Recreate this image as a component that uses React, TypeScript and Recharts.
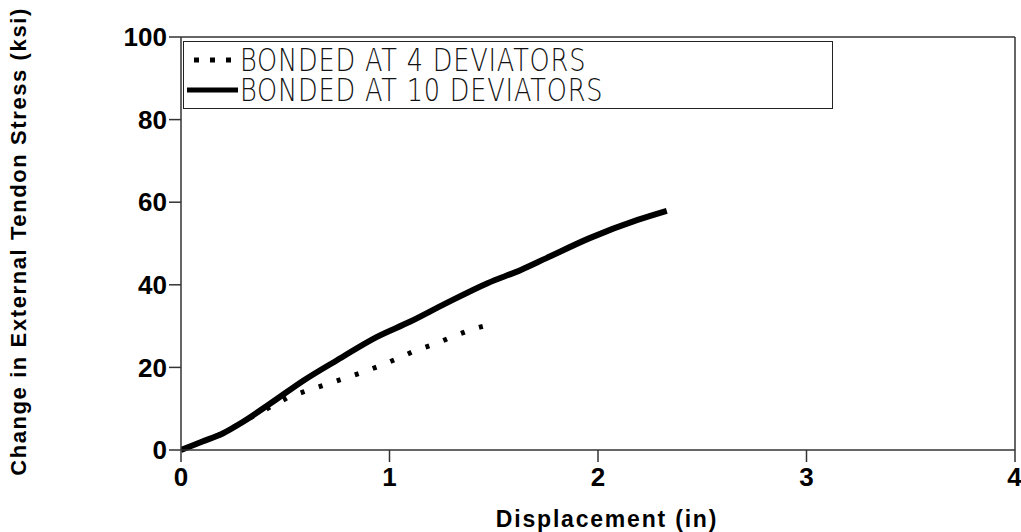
import { LineChart, Line, XAxis, YAxis, Legend, ReferenceLine } from 'recharts';

const tenDevX = [0, 0.1, 0.2, 0.3, 0.43, 0.59, 0.75, 0.94, 1.1, 1.27, 1.47, 1.63, 1.75, 1.96, 2.19, 2.33];
const tenDevY = [0, 2.0, 4.0, 6.9, 11.3, 16.9, 21.8, 27.4, 31.1, 35.5, 40.4, 43.6, 46.4, 51.3, 55.7, 57.9];

const fourDevX = [0, 0.2, 0.3, 0.43, 0.52, 0.6, 0.69, 0.78, 0.87, 0.96, 1.05, 1.13, 1.22, 1.31, 1.4, 1.49];
const fourDevY = [0, 4.0, 6.9, 10.5, 12.9, 14.3, 15.8, 17.3, 18.8, 20.5, 22.4, 24.2, 25.7, 27.6, 29.3, 30.5];

const xTicks = [0, 1, 2, 3, 4];
const yTicks = [0, 20, 40, 60, 80, 100];

const legendNames = ['BONDED AT 4 DEVIATORS', 'BONDED AT 10 DEVIATORS'];
const yTitle = 'Change  in  External  Tendon  Stress  (ksi)';
const xTitle = 'Displacement  (in)';

const tenDev = tenDevX.map((x, i) => ({ x, y: tenDevY[i] }));
const fourDev = fourDevX.map((x, i) => ({ x, y: fourDevY[i] }));

const boldFont = '"Liberation Sans", Arial, sans-serif';

const renderLegend = () => (
  <div
    style={{
      width: 650,
      height: 68,
      border: '1.5px solid #222',
      background: '#fff',
      boxSizing: 'border-box',
      fontFamily: '"DejaVu Sans", sans-serif',
      fontWeight: 200,
      fontSize: 32,
      lineHeight: '30px',
      letterSpacing: 1,
      color: '#111',
      paddingTop: 3,
      textAlign: 'left',
      overflow: 'hidden',
    }}
  >
    {legendNames.map((name, i) => (
      <div key={name} style={{ display: 'flex', alignItems: 'center', height: 30 }}>
        <svg width={54} height={10} style={{ marginLeft: 2, flexShrink: 0 }}>
          {i === 0 ? (
            <line x1={8} y1={5} x2={50} y2={5} stroke="#000" strokeWidth={5} strokeDasharray="5 11" />
          ) : (
            <line x1={1} y1={5} x2={52} y2={5} stroke="#000" strokeWidth={5} />
          )}
        </svg>
        <span style={{ transform: 'scaleX(0.8)', transformOrigin: 'left center', whiteSpace: 'nowrap' }}>
          {name}
        </span>
      </div>
    ))}
  </div>
);

const renderYTitle = ({ viewBox }: any) => {
  const x = viewBox.x + 18;
  const y = viewBox.y + viewBox.height / 2 - 2;
  return (
    <text
      x={x}
      y={y}
      transform={`rotate(-90 ${x} ${y})`}
      textAnchor="middle"
      dominantBaseline="central"
      fill="#000"
      style={{ fontSize: 22, fontWeight: 700, fontFamily: boldFont, letterSpacing: 1.6 }}
    >
      {yTitle}
    </text>
  );
};

export default function App() {
  return (
    <div style={{ position: 'absolute', left: 0, top: 0, width: 1021, height: 532, background: '#fff' }}>
      <LineChart width={1021} height={532} margin={{ top: 37, right: 6, bottom: 0, left: 0 }}>
        <XAxis
          type="number"
          dataKey="x"
          domain={[0, 4]}
          ticks={xTicks}
          allowDataOverflow
          height={82}
          stroke="#333"
          strokeWidth={1.5}
          tickSize={12}
          tickMargin={6}
          tick={{ fill: '#000', fontSize: 26, fontWeight: 700, fontFamily: boldFont }}
          label={{
            value: xTitle,
            position: 'insideBottom',
            offset: 5,
            dx: 9,
            style: { fill: '#000', fontSize: 23, fontWeight: 700, fontFamily: boldFont, letterSpacing: 1.8 },
          }}
        />
        <YAxis
          type="number"
          dataKey="y"
          domain={[0, 100]}
          ticks={yTicks}
          width={181}
          stroke="#333"
          strokeWidth={1.5}
          tickSize={12}
          tickMargin={2}
          tick={{ fill: '#000', fontSize: 26, fontWeight: 700, fontFamily: boldFont }}
          label={renderYTitle}
        />
        <ReferenceLine y={100} stroke="#333" strokeWidth={1.5} />
        <ReferenceLine x={4} stroke="#333" strokeWidth={1.5} />
        <Legend
          content={renderLegend}
          layout="horizontal"
          verticalAlign="middle"
          align="center"
          wrapperStyle={{ top: 41, left: 183, width: 650 }}
        />
        <Line
          data={fourDev}
          dataKey="y"
          name={legendNames[0]}
          type="linear"
          stroke="#000"
          strokeWidth={5}
          strokeDasharray="4 15"
          dot={false}
          isAnimationActive={false}
        />
        <Line
          data={tenDev}
          dataKey="y"
          name={legendNames[1]}
          type="monotone"
          stroke="#000"
          strokeWidth={6}
          dot={false}
          isAnimationActive={false}
        />
      </LineChart>
    </div>
  );
}
